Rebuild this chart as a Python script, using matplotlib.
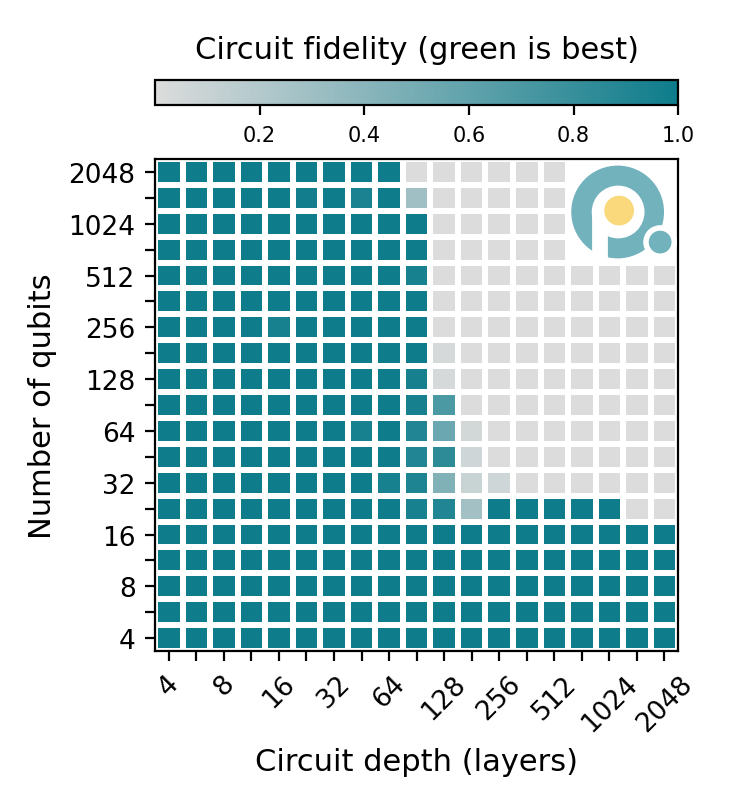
import numpy as np
import matplotlib
matplotlib.use("Agg")
import matplotlib.pyplot as plt
from matplotlib.colors import LinearSegmentedColormap
from matplotlib.patches import Circle, Rectangle

# circuit depth (columns) and number of qubits (rows), half-octave steps
depths = ["4", "", "8", "", "16", "", "32", "", "64", "", "128", "", "256", "",
          "512", "", "1024", "", "2048"]
qubits = ["4", "", "8", "", "16", "", "32", "", "64", "", "128", "", "256", "",
          "512", "", "1024", "", "2048"]

# fidelity, row 0 = 4 qubits (bottom); nan = not run
nan = np.nan
fidelity = [
    [1.00] * 19,
    [1.00] * 19,
    [1.00] * 19,
    [1.00] * 19,
    [1.00] * 19,
    [1, 1, 1, 1, 1, 1, 1, 1, 1, 0.95, 0.90, 0.28, 1, 1, 1, 1, 1, 0.0, 0.0],
    [1, 1, 1, 1, 1, 1, 1, 1, 0.95, 0.92, 0.45, 0.10, 0.07, 0, 0, 0, 0, 0, 0],
    [1, 1, 1, 1, 1, 1, 1, 1, 1, 0.90, 0.85, 0.07, 0, 0, 0, 0, 0, 0, 0],
    [1, 1, 1, 1, 1, 1, 1, 0.95, 1, 0.90, 0.55, 0.05, 0, 0, 0, 0, 0, 0, 0],
    [1, 1, 1, 1, 1, 1, 1, 1, 1, 0.96, 0.70, 0, 0, 0, 0, 0, 0, 0, 0],
    [1, 1, 1, 1, 1, 1, 1, 1, 1, 0.96, 0.03, 0, 0, 0, 0, 0, 0, 0, 0],
    [1, 1, 1, 1, 1, 1, 1, 1, 1, 1, 0.03, 0, 0, 0, 0, 0, 0, 0, 0],
    [1, 1, 1, 1, 0.95, 1, 1, 1, 1, 1, 0, 0, 0, 0, 0, 0, 0, 0, 0],
    [1, 1, 1, 1, 1, 1, 1, 1, 1, 1, 0, 0, 0, 0, 0, 0, 0, 0, 0],
    [1, 1, 1, 1, 1, 1, 1, 1, 1, 0.95, 0, 0, 0, 0, 0, 0, 0, 0, 0],
    [1, 1, 1, 1, 1, 1, 1, 1, 1, 1, 0, 0, 0, 0, 0, nan, nan, nan, nan],
    [1, 1, 1, 1, 1, 1, 1, 1, 1, 1, 0, 0, 0, 0, 0, nan, nan, nan, nan],
    [1, 1, 1, 1, 1, 0.98, 1, 0.94, 1, 0.30, 0, 0, 0, 0, 0, nan, nan, nan, nan],
    [1, 1, 1, 1, 1, 1, 1, 1, 1, 0, 0, 0, 0, 0, 0, nan, nan, nan, nan],
]
fidelity = np.ma.masked_invalid(np.array(fidelity, dtype=float))

cmap = LinearSegmentedColormap.from_list("fid", ["#dcdcdc", "#0e7c8b"])

fig = plt.figure(figsize=(3.69, 4.02), dpi=200)
ax = fig.add_axes([0.210, 0.189, 0.709, 0.612])
mesh = ax.pcolormesh(fidelity, cmap=cmap, vmin=0, vmax=1,
                     edgecolors="white", linewidth=1.5)
ax.set_xlim(0, 19)
ax.set_ylim(0, 19)
ax.set_xticks(np.arange(19) + 0.5)
ax.set_xticklabels(depths, rotation=45, fontsize=9.5)
ax.set_yticks(np.arange(19) + 0.5)
ax.set_yticklabels(qubits, fontsize=9.5)
ax.set_xlabel("Circuit depth (layers)", fontsize=11)
ax.set_ylabel("Number of qubits", fontsize=11)

# colour bar on top
cax = fig.add_axes([0.210, 0.868, 0.709, 0.031])
cbar = fig.colorbar(mesh, cax=cax, orientation="horizontal")
cbar.set_ticks([0.2, 0.4, 0.6, 0.8, 1.0])
cbar.ax.tick_params(labelsize=7.5)
cax.set_title("Circuit fidelity (green is best)", fontsize=11, pad=8)

# logo in the empty corner
lg = ax.inset_axes([15, 15, 4, 4], transform=ax.transData)
lg.set_xlim(0, 110)
lg.set_ylim(0, 103.6)
lg.set_aspect("equal")
lg.axis("off")
lg.patch.set_alpha(0)
teal = "#72b2bc"
lg.add_patch(Circle((49.5, 50.6), 45, color=teal))
lg.add_patch(Circle((50, 50.6), 25, color="white"))
lg.add_patch(Rectangle((25, 0), 12.5, 50.6, color="white"))
lg.add_patch(Circle((51, 52), 13.5, color="#f9d97c"))
lg.add_patch(Circle((92, 20.5), 15.5, color="white"))
lg.add_patch(Circle((92, 20.5), 10, color=teal))

fig.savefig("out.png", dpi=200)
